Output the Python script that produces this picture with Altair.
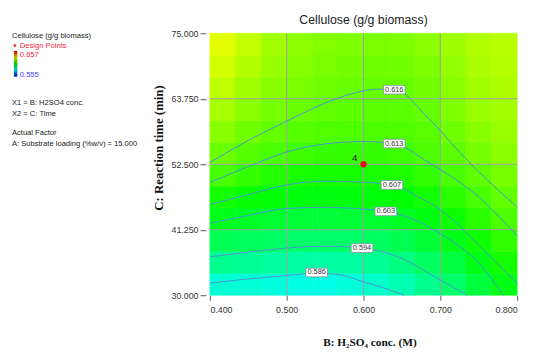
import altair as alt
import pandas as pd

# ---------------- data ----------------
TITLE = "Cellulose (g/g biomass)"
X_TITLE = "B: H\u2082SO\u2084 conc. (M)"
Y_TITLE = "C: Reaction time (min)"

X_TICKS = [0.4, 0.5, 0.6, 0.7, 0.8]
T_TICKS = [30.0, 41.25, 52.5, 63.75, 75.0]
GRID_X = [0.5, 0.6, 0.7]
GRID_T = [41.25, 52.5, 63.75]

# cell boundaries of the response-surface grid
X_EDGES = [0.4, 0.43333, 0.46667, 0.5, 0.53333, 0.56667, 0.6,
           0.63333, 0.66667, 0.7, 0.73333, 0.76667, 0.8]
T_EDGES = [30.0, 33.75, 37.5, 41.25, 45.0, 48.75, 52.5,
           56.25, 60.0, 63.75, 67.5, 71.25, 75.0]

# estimated cellulose values per cell, rows from bottom (30 min) to top (75 min)
HEAT = [
    [0.5850, 0.5845, 0.5840, 0.5834, 0.5832, 0.5844, 0.5859, 0.5882, 0.5919, 0.5954, 0.6000, 0.6042],
    [0.5917, 0.5911, 0.5903, 0.5897, 0.5894, 0.5901, 0.5912, 0.5931, 0.5963, 0.5997, 0.6037, 0.6079],
    [0.5977, 0.5968, 0.5961, 0.5956, 0.5954, 0.5956, 0.5963, 0.5979, 0.6006, 0.6037, 0.6073, 0.6108],
    [0.6033, 0.6021, 0.6012, 0.6005, 0.6004, 0.6007, 0.6012, 0.6025, 0.6045, 0.6071, 0.6101, 0.6135],
    [0.6079, 0.6065, 0.6055, 0.6047, 0.6046, 0.6048, 0.6051, 0.6059, 0.6078, 0.6102, 0.6130, 0.6158],
    [0.6131, 0.6111, 0.6095, 0.6084, 0.6080, 0.6080, 0.6083, 0.6090, 0.6110, 0.6132, 0.6154, 0.6179],
    [0.6165, 0.6146, 0.6134, 0.6122, 0.6115, 0.6113, 0.6114, 0.6121, 0.6135, 0.6151, 0.6177, 0.6197],
    [0.6198, 0.6173, 0.6157, 0.6145, 0.6139, 0.6137, 0.6136, 0.6139, 0.6149, 0.6170, 0.6196, 0.6212],
    [0.6228, 0.6198, 0.6178, 0.6165, 0.6155, 0.6151, 0.6149, 0.6150, 0.6162, 0.6186, 0.6211, 0.6223],
    [0.6252, 0.6220, 0.6197, 0.6181, 0.6170, 0.6164, 0.6161, 0.6162, 0.6175, 0.6198, 0.6222, 0.6233],
    [0.6272, 0.6238, 0.6211, 0.6193, 0.6181, 0.6175, 0.6172, 0.6174, 0.6187, 0.6208, 0.6231, 0.6240],
    [0.6288, 0.6254, 0.6222, 0.6202, 0.6190, 0.6184, 0.6181, 0.6186, 0.6200, 0.6217, 0.6236, 0.6244],
]

# contour lines
LEVELS = ["0.586", "0.594", "0.603", "0.607", "0.613", "0.616"]
C586_X = [0.400, 0.450, 0.500, 0.540, 0.570, 0.600, 0.630, 0.653]
C586_T = [32.1, 32.8, 33.4, 33.8, 33.5, 32.3, 31.1, 30.0]
C594_X = [0.400, 0.450, 0.500, 0.550, 0.600, 0.650, 0.700, 0.735]
C594_T = [36.6, 37.4, 38.1, 38.4, 38.1, 36.3, 32.6, 30.0]
C603_X = [0.400, 0.450, 0.500, 0.550, 0.600, 0.629, 0.660, 0.700, 0.750, 0.782]
C603_T = [42.35, 43.7, 44.9, 45.1, 44.8, 44.4, 43.3, 40.6, 35.5, 30.0]
C607_X = [0.400, 0.450, 0.500, 0.550, 0.600, 0.638, 0.670, 0.700, 0.750, 0.800]
C607_T = [45.6, 47.3, 48.95, 49.6, 49.4, 48.95, 47.0, 44.7, 38.6, 32.0]
C613_X = [0.400, 0.450, 0.500, 0.550, 0.600, 0.640, 0.680, 0.700, 0.720, 0.750, 0.780, 0.800]
C613_T = [49.4, 52.1, 54.6, 56.0, 56.4, 56.05, 53.2, 51.6, 49.9, 46.9, 43.0, 40.2]
C616_X = [0.400, 0.450, 0.500, 0.550, 0.600, 0.620, 0.640, 0.653, 0.680, 0.700, 0.720, 0.750, 0.776, 0.800]
C616_T = [52.8, 56.6, 59.9, 63.0, 65.1, 65.4, 65.3, 64.6, 61.0, 58.3, 55.3, 51.2, 48.0, 45.1]
C_X = [C586_X, C594_X, C603_X, C607_X, C613_X, C616_X]
C_T = [C586_T, C594_T, C603_T, C607_T, C613_T, C616_T]

LABEL_X = [0.539, 0.598, 0.629, 0.637, 0.640, 0.640]
LABEL_T = [33.9, 38.1, 44.4, 48.95, 56.05, 65.3]

DESIGN_X = [0.6]
DESIGN_T = [52.5]
DESIGN_N = ["4"]

LEGEND_MAX = "0.657"
LEGEND_MIN = "0.555"
NOTES = ["X1 = B: H2SO4 conc.", "X2 = C: Time", "Actual Factor",
         "A: Substrate loading (%w/v) = 15.000"]

# ---------------- tables ----------------
heat_rows = []
for i, row in enumerate(HEAT):
    for j, v in enumerate(row):
        heat_rows.append({"x0": X_EDGES[j], "x1": X_EDGES[j + 1],
                          "t0": T_EDGES[i], "t1": T_EDGES[i + 1], "v": v})
heat_df = pd.DataFrame(heat_rows)

line_rows = []
for lev, xs, ts in zip(LEVELS, C_X, C_T):
    for k, (xv, tv) in enumerate(zip(xs, ts)):
        line_rows.append({"level": lev, "k": k, "x": xv, "t": tv})
line_df = pd.DataFrame(line_rows)

label_df = pd.DataFrame({"level": LEVELS, "x": LABEL_X, "t": LABEL_T})
point_df = pd.DataFrame({"x": DESIGN_X, "t": DESIGN_T, "n": DESIGN_N})
one = pd.DataFrame({"k": [0]})

# ---------------- scales ----------------
SANS = "Liberation Sans"
SERIF = "Liberation Serif"
xscale = alt.Scale(domain=[0.4, 0.8], nice=False, zero=False)
tscale = alt.Scale(domain=[30, 75], nice=False, zero=False)
cscale = alt.Scale(domain=[0.555, 0.5805, 0.606, 0.6315, 0.657],
                   range=["#0000ff", "#00ffff", "#00ff00", "#ffff00", "#ff0000"],
                   interpolate="rgb")

x_axis = alt.Axis(values=X_TICKS, format=".3f", labelFont=SANS, labelFontSize=9,
                  labelColor="#333333", tickSize=5, tickColor="#555555",
                  labelPadding=6, domain=False, grid=False,
                  title=X_TITLE, titleFont=SERIF, titleFontSize=11.5,
                  titleFontWeight="bold", titleColor="#111111",
                  titleX=162, titleY=48, titleAlign="center", titleBaseline="middle")
y_axis = alt.Axis(values=T_TICKS, format=".3f", labelFont=SANS, labelFontSize=9,
                  labelColor="#333333", tickSize=6, tickColor="#555555",
                  labelPadding=2, offset=4, domain=False, grid=False,
                  title=Y_TITLE, titleFont=SERIF, titleFontSize=13,
                  titleFontWeight="bold", titleColor="#111111",
                  titleX=-48, titleY=116, titleAngle=270,
                  titleAlign="center", titleBaseline="middle")

heat = alt.Chart(heat_df).mark_rect(strokeWidth=0.6).encode(
    x=alt.X("x0:Q", scale=xscale, axis=x_axis),
    x2="x1:Q",
    y=alt.Y("t0:Q", scale=tscale, axis=y_axis),
    y2="t1:Q",
    color=alt.Color("v:Q", scale=cscale, legend=None),
    stroke=alt.Stroke("v:Q", scale=cscale, legend=None),
)

grid_x = alt.Chart(pd.DataFrame({"x": GRID_X})).mark_rule(
    color="#a0a0a0", strokeWidth=1).encode(x=alt.X("x:Q", scale=xscale))
grid_t = alt.Chart(pd.DataFrame({"t": GRID_T})).mark_rule(
    color="#a0a0a0", strokeWidth=1).encode(y=alt.Y("t:Q", scale=tscale))

lines = alt.Chart(line_df).mark_line(
    color="#4a93cf", strokeWidth=1, interpolate="monotone").encode(
    x=alt.X("x:Q", scale=xscale),
    y=alt.Y("t:Q", scale=tscale),
    detail="level:N",
    order="k:Q",
)

boxes = alt.Chart(label_df).mark_point(
    shape="M-1,-0.4L1,-0.4L1,0.4L-1,0.4Z", size=484, filled=True,
    fill="white", stroke="#7f8fa0", strokeWidth=0.8, opacity=1).encode(
    x=alt.X("x:Q", scale=xscale), y=alt.Y("t:Q", scale=tscale))

btext = alt.Chart(label_df).mark_text(
    font=SANS, fontSize=7.5, color="#333333").encode(
    x=alt.X("x:Q", scale=xscale), y=alt.Y("t:Q", scale=tscale), text="level:N")

dot = alt.Chart(point_df).mark_circle(size=42, color="#e8141c", opacity=1).encode(
    x=alt.X("x:Q", scale=xscale), y=alt.Y("t:Q", scale=tscale))
dot_text = alt.Chart(point_df).mark_text(
    font=SANS, fontSize=10, color="#111111", dx=-9, dy=-6).encode(
    x=alt.X("x:Q", scale=xscale), y=alt.Y("t:Q", scale=tscale), text="n:N")

# ---------------- left-hand annotations ----------------
def note(txt, px, py, color="#222222", size=7.7):
    return alt.Chart(one).mark_text(
        font=SANS, fontSize=size, color=color, align="left", baseline="middle").encode(
        x=alt.value(px - 213), y=alt.value(py - 31), text=alt.value(txt))

left = [
    note(TITLE, 12, 33.5),
    note("Design Points", 20, 43.5, color="#f0283c"),
    note(LEGEND_MAX, 20, 53, color="#f0283c"),
    note(LEGEND_MIN, 20, 73, color="#3c3cff"),
    note(NOTES[0], 12, 102),
    note(NOTES[1], 12, 113),
    note(NOTES[2], 12, 132.5),
    note(NOTES[3], 12, 143),
]
bullet = alt.Chart(one).mark_point(shape="diamond", filled=True, size=12,
                                   color="#f0283c", opacity=1).encode(
    x=alt.value(15 - 213), y=alt.value(43.5 - 31))
gbar = alt.Chart(one).mark_rect(
    fill=alt.LinearGradient(
        gradient="linear", x1=0, x2=0, y1=1, y2=0,
        stops=[alt.GradientStop(color="#0000c8", offset=0),
               alt.GradientStop(color="#00c8c8", offset=0.25),
               alt.GradientStop(color="#00c800", offset=0.5),
               alt.GradientStop(color="#c8c800", offset=0.75),
               alt.GradientStop(color="#c80000", offset=1)])).encode(
    x=alt.value(14 - 213), x2=alt.value(17.5 - 213),
    y=alt.value(49 - 31), y2=alt.value(75 - 31))

chart = alt.layer(heat, grid_x, grid_t, lines, boxes, btext, dot, dot_text,
                  bullet, gbar, *left).properties(
    width=312, height=266,
    background="white",
    title=alt.TitleParams(TITLE, font=SANS, fontSize=12.5, fontWeight="normal",
                          color="#222222", offset=3, anchor="middle", frame="group"),
    padding={"left": 205, "top": 23, "right": 10, "bottom": 56},
    autosize=alt.AutoSizeParams(type="none"),
).configure_view(strokeWidth=0)

chart.save("out.html", embed_options={"renderer": "svg", "actions": False})
